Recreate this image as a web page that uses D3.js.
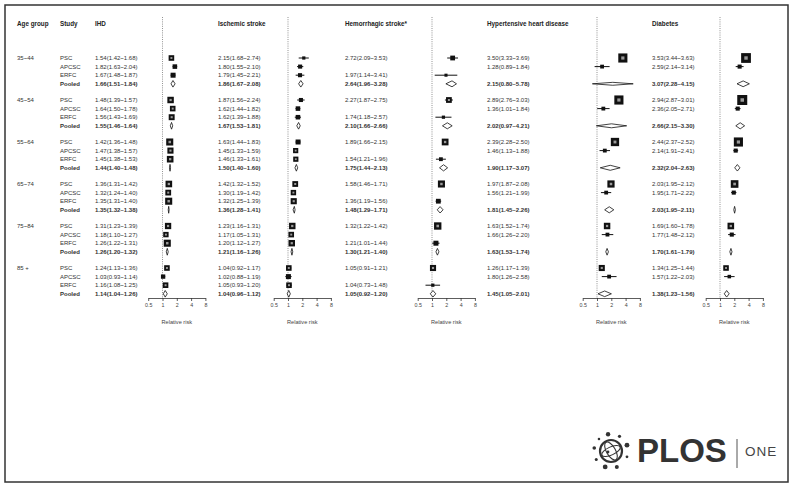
<!DOCTYPE html>
<html>
<head>
<meta charset="utf-8">
<script src="https://cdn.jsdelivr.net/npm/d3@7"></script>
<style>
  body { margin: 0; background: #fff; }
  svg { display: block; font-family: "Liberation Sans", Arial, sans-serif; }
</style>
</head>
<body>
<svg id="chart" width="800" height="490"></svg>
<script>
// ---- data ----
const ageGroups = ["35~44", "45~54", "55~64", "65~74", "75~84", "85 +"];
const studies = ["PSC", "APCSC", "ERFC", "Pooled"];
const diseases = ["IHD", "Ischemic stroke", "Hemorrhagic stroke*", "Hypertensive heart disease", "Diabetes"];
const axisTicks = [0.5, 1, 2, 4, 8];

// [rr, lower, upper] for PSC, APCSC, ERFC, Pooled; null = no data
const ihdRR = [
  [[1.54,1.42,1.68],[1.82,1.63,2.04],[1.67,1.48,1.87],[1.66,1.51,1.84]],
  [[1.48,1.39,1.57],[1.64,1.50,1.78],[1.56,1.43,1.69],[1.55,1.46,1.64]],
  [[1.42,1.36,1.48],[1.47,1.38,1.57],[1.45,1.38,1.53],[1.44,1.40,1.48]],
  [[1.36,1.31,1.42],[1.32,1.24,1.40],[1.35,1.31,1.40],[1.35,1.32,1.38]],
  [[1.31,1.23,1.39],[1.18,1.10,1.27],[1.26,1.22,1.31],[1.26,1.20,1.32]],
  [[1.24,1.13,1.36],[1.03,0.93,1.14],[1.16,1.08,1.25],[1.14,1.04,1.26]]
];
const ischemicRR = [
  [[2.15,1.68,2.74],[1.80,1.55,2.10],[1.79,1.45,2.21],[1.86,1.67,2.08]],
  [[1.87,1.56,2.24],[1.62,1.44,1.82],[1.62,1.39,1.88],[1.67,1.53,1.81]],
  [[1.63,1.44,1.83],[1.45,1.33,1.59],[1.46,1.33,1.61],[1.50,1.40,1.60]],
  [[1.42,1.32,1.52],[1.30,1.19,1.42],[1.32,1.25,1.39],[1.36,1.28,1.41]],
  [[1.23,1.16,1.31],[1.17,1.05,1.31],[1.20,1.12,1.27],[1.21,1.16,1.26]],
  [[1.04,0.92,1.17],[1.02,0.88,1.19],[1.05,0.93,1.20],[1.04,0.96,1.12]]
];
const hemorrhagicRR = [
  [[2.72,2.09,3.53],null,[1.97,1.14,3.41],[2.64,1.96,3.28]],
  [[2.27,1.87,2.75],null,[1.74,1.18,2.57],[2.10,1.66,2.66]],
  [[1.89,1.66,2.15],null,[1.54,1.21,1.96],[1.75,1.44,2.13]],
  [[1.58,1.46,1.71],null,[1.36,1.19,1.56],[1.48,1.29,1.71]],
  [[1.32,1.22,1.42],null,[1.21,1.01,1.44],[1.30,1.21,1.40]],
  [[1.05,0.91,1.21],null,[1.04,0.73,1.48],[1.05,0.92,1.20]]
];
const hypertensiveRR = [
  [[3.50,3.33,3.69],[1.28,0.89,1.84],null,[2.15,0.80,5.78]],
  [[2.89,2.76,3.03],[1.36,1.01,1.84],null,[2.02,0.97,4.21]],
  [[2.39,2.28,2.50],[1.46,1.13,1.88],null,[1.90,1.17,3.07]],
  [[1.97,1.87,2.08],[1.56,1.21,1.99],null,[1.81,1.45,2.26]],
  [[1.63,1.52,1.74],[1.66,1.26,2.20],null,[1.63,1.53,1.74]],
  [[1.26,1.17,1.39],[1.80,1.26,2.58],null,[1.45,1.05,2.01]]
];
const diabetesRR = [
  [[3.53,3.44,3.63],[2.59,2.14,3.14],null,[3.07,2.28,4.15]],
  [[2.94,2.87,3.01],[2.36,2.05,2.71],null,[2.66,2.15,3.30]],
  [[2.44,2.37,2.52],[2.14,1.91,2.41],null,[2.32,2.04,2.63]],
  [[2.03,1.95,2.12],[1.95,1.71,2.22],null,[2.03,1.95,2.11]],
  [[1.69,1.60,1.78],[1.77,1.48,2.12],null,[1.70,1.61,1.79]],
  [[1.34,1.25,1.44],[1.57,1.22,2.03],null,[1.38,1.23,1.56]]
];

// study weights (relative): PSC, APCSC, ERFC
const ihdWeight =         [[30,20,24],[40,30,34],[48,36,42],[42,32,48],[38,28,48],[30,18,30]];
const ischemicWeight =    [[10,16,16],[16,20,20],[24,26,26],[32,28,36],[40,30,40],[30,24,30]];
const hemorrhagicWeight = [[22,0,9],[32,0,10],[44,0,14],[48,0,22],[52,0,24],[36,0,10]];
const hypertensiveWeight= [[80,14],[80,14],[66,14],[50,14],[40,14],[36,14]];
const diabetesWeight =    [[92,16],[96,16],[80,16],[56,16],[42,16],[30,12]];

// ---- layout ----
const svg = d3.select("#chart");
const headerY = 26;
const rowTop = 58, groupStep = 42, rowStep = 8.6;
const axisY = 298;
const unit = 14.3;            // px per doubling on the log axis
const textColor = "#333";

const panelText = [95, 218, 345, 487, 652];
const panelRef  = [162.5, 288, 432, 597, 720];
const panelRR = [ihdRR, ischemicRR, hemorrhagicRR, hypertensiveRR, diabetesRR];
const panelW  = [ihdWeight, ischemicWeight, hemorrhagicWeight, hypertensiveWeight, diabetesWeight];

const f2 = d3.format(".2f");
const label = v => f2(v[0]) + "(" + f2(v[1]) + "~" + f2(v[2]) + ")";
const rowY = (g, i) => rowTop + g * groupStep + i * rowStep;
const side = d3.scaleSqrt().domain([0, 100]).range([0, 10.2]);

// frame
svg.append("rect")
  .attr("x", 5).attr("y", 5).attr("width", 783).attr("height", 477)
  .attr("fill", "none").attr("stroke", "#333").attr("stroke-width", 1.5);

// headers
const headers = [["Age group", 17], ["Study", 60]].concat(diseases.map((d, k) => [d, panelText[k]]));
svg.append("g").selectAll("text").data(headers).join("text")
  .attr("x", d => d[1]).attr("y", headerY)
  .attr("font-size", 6.3).attr("font-weight", "bold").attr("fill", "#222")
  .text(d => d[0]);

// age group + study labels
ageGroups.forEach((a, g) => {
  svg.append("text").attr("x", 17).attr("y", rowY(g, 0) + 2.2)
    .attr("font-size", 6).attr("fill", textColor).text(a);
  studies.forEach((s, i) => {
    svg.append("text").attr("x", 60).attr("y", rowY(g, i) + 2.2)
      .attr("font-size", 6).attr("fill", textColor)
      .attr("font-weight", i === 3 ? "bold" : null).text(s);
  });
});

// panels
diseases.forEach((name, k) => {
  const x = d3.scaleLog().domain([0.5, 8]).range([panelRef[k] - unit, panelRef[k] + 3 * unit]);
  const g = svg.append("g");

  g.append("line")
    .attr("x1", x(1)).attr("x2", x(1)).attr("y1", 17).attr("y2", axisY)
    .attr("stroke", "#777").attr("stroke-width", 0.8).attr("stroke-dasharray", "1,1.2");

  const ax = g.append("g").attr("transform", "translate(0," + axisY + ")")
    .call(d3.axisBottom(x).tickValues(axisTicks).tickFormat(d => d).tickSize(3).tickSizeOuter(0).tickPadding(2));
  ax.select(".domain").attr("stroke", "#333").attr("stroke-width", 0.8);
  ax.selectAll(".tick line").attr("stroke", "#333").attr("stroke-width", 0.8);
  ax.selectAll(".tick text").attr("font-size", 5.3).attr("fill", "#444")
    .attr("font-family", "Liberation Sans, Arial, sans-serif");

  g.append("text").attr("x", x(2)).attr("y", 324).attr("text-anchor", "middle")
    .attr("font-size", 5.6).attr("fill", "#444").text("Relative risk");

  panelRR[k].forEach((grp, gi) => {
    grp.forEach((v, i) => {
      if (!v) return;
      const y = rowY(gi, i);
      g.append("text").attr("x", panelText[k]).attr("y", y + 2.2)
        .attr("font-size", 6).attr("fill", textColor)
        .attr("font-weight", i === 3 ? "bold" : null).text(label(v));

      if (i === 3) {
        // wide pooled estimates are drawn flatter, as in the figure
        const wpx = x(v[2]) - x(v[1]);
        const h = Math.max(1.3, 3.5 - 0.05 * wpx);
        g.append("polygon")
          .attr("points", [[x(v[1]), y], [x(v[0]), y - h], [x(v[2]), y], [x(v[0]), y + h]].join(" "))
          .attr("fill", "#fff").attr("stroke", "#111").attr("stroke-width", 0.8);
      } else {
        const w = panelW[k][gi][i];
        const s = side(w);
        g.append("line")
          .attr("x1", x(v[1])).attr("x2", x(v[2])).attr("y1", y).attr("y2", y)
          .attr("stroke", "#111").attr("stroke-width", 1);
        g.append("rect")
          .attr("x", x(v[0]) - s / 2).attr("y", y - s / 2).attr("width", s).attr("height", s)
          .attr("fill", "#111");
        if (s >= 5) {
          const c = s * 0.35;
          g.append("rect")
            .attr("x", x(v[0]) - c / 2).attr("y", y - c / 2).attr("width", c).attr("height", c)
            .attr("fill", "#9a9a9a");
        }
      }
    });
  });
});

// PLOS ONE mark
const logo = svg.append("g");
const cx = 611, cy = 451;
logo.append("circle").attr("cx", cx).attr("cy", cy).attr("r", 11)
  .attr("fill", "none").attr("stroke", "#333").attr("stroke-width", 2.2);
logo.append("ellipse").attr("cx", cx).attr("cy", cy).attr("rx", 10).attr("ry", 4.5)
  .attr("transform", "rotate(60," + cx + "," + cy + ")")
  .attr("fill", "none").attr("stroke", "#333").attr("stroke-width", 1.1);
logo.append("ellipse").attr("cx", cx).attr("cy", cy).attr("rx", 10).attr("ry", 4)
  .attr("transform", "rotate(-25," + cx + "," + cy + ")")
  .attr("fill", "none").attr("stroke", "#333").attr("stroke-width", 1.1);
logo.append("circle").attr("cx", cx - 3).attr("cy", cy + 1).attr("r", 1.4).attr("fill", "#333");
const dots = [[-100, 2.2], [-60, 1.6], [-20, 2.4], [20, 1.4], [70, 2.0], [110, 2.4], [150, 1.5], [190, 1.8], [225, 1.3]];
logo.selectAll(".dot").data(dots).join("circle")
  .attr("cx", d => cx + 17 * Math.cos(d[0] * Math.PI / 180))
  .attr("cy", d => cy + 17 * Math.sin(d[0] * Math.PI / 180))
  .attr("r", d => d[1]).attr("fill", "#333");
logo.append("text").attr("x", 637).attr("y", 462)
  .attr("font-size", 33).attr("font-weight", "bold").attr("fill", "#333").text("PLOS");
logo.append("line").attr("x1", 737).attr("x2", 737).attr("y1", 439).attr("y2", 468)
  .attr("stroke", "#555").attr("stroke-width", 1);
logo.append("text").attr("x", 745).attr("y", 456)
  .attr("font-size", 13.5).attr("letter-spacing", 1).attr("fill", "#444").text("ONE");
</script>
</body>
</html>
